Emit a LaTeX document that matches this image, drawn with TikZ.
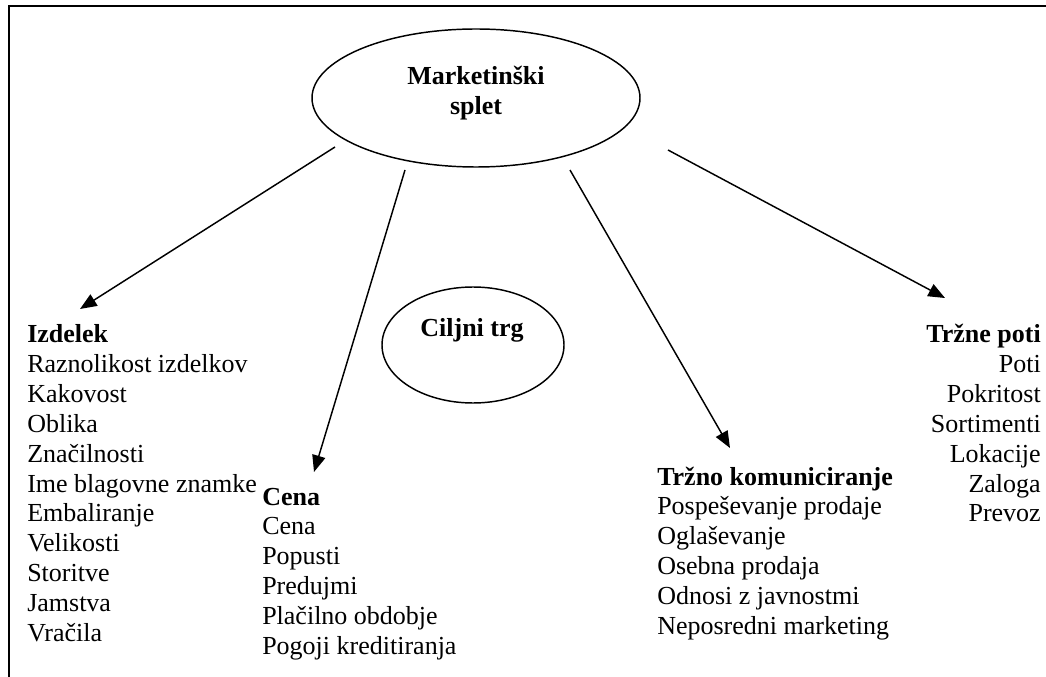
\documentclass[tikz,border=0pt]{standalone}
\usepackage{fontspec}
\setmainfont{Liberation Serif}
\usepackage{tikz}
\usetikzlibrary{arrows.meta,shapes.geometric}

\begin{document}
\begin{tikzpicture}[x=0.75pt,y=-0.75pt,
	txt/.style={inner sep=0pt,font=\fontsize{19.5pt}{22.4pt}\selectfont},
	head/.style={inner sep=0pt,font=\fontsize{19.5pt}{22.4pt}\selectfont\bfseries},
	oval/.style={draw,ellipse,line width=1.1pt,inner sep=0pt},
	arr/.style={line width=1.1pt,-{Triangle[length=12.5pt,width=10pt]}}]
		\useasboundingbox (0,0) rectangle (1046,677);
		% okvir
		\draw[line width=1.5pt] (9,677) -- (9,6) -- (1046,6);
		% elipsi
		\node[oval,minimum width=246pt,minimum height=103.5pt] (splet) at (476,98) {};
		\node[head,align=center] (spletime) at (476,93) {Marketinški\\splet};
		\node[oval,minimum width=136.5pt,minimum height=87pt] (trg) at (473,345) {};
		\node[head] (trgime) at (472,330) {Ciljni trg};
		% izdelek
		\node[head,anchor=base west] (izd) at (27,343) {Izdelek};
		\foreach \t [count=\i] in {Raznolikost izdelkov,Kakovost,Oblika,Značilnosti,
			Ime blagovne znamke,Embaliranje,Velikosti,Storitve,Jamstva,Vračila}
			\node[txt,anchor=base west] (izd\i) at (27,{343+29.8*\i}) {\t};
		% cena
		\node[head,anchor=base west] (cena) at (262,505) {Cena};
		\foreach \t [count=\i] in {Cena,Popusti,Predujmi,Plačilno obdobje,Pogoji kreditiranja}
			\node[txt,anchor=base west] (cena\i) at (262,{505+29.8*\i}) {\t};
		% komuniciranje
		\node[head,anchor=base west] (kom) at (657,485) {Tržno komuniciranje};
		\foreach \t [count=\i] in {Pospeševanje prodaje,Oglaševanje,Osebna prodaja,
			Odnosi z javnostmi,Neposredni marketing}
			\node[txt,anchor=base west] (kom\i) at (657,{485+29.8*\i}) {\t};
		% poti
		\node[head,anchor=base east] (poti) at (1041,343) {Tržne poti};
		\foreach \t [count=\i] in {Poti,Pokritost,Sortimenti,Lokacije,Zaloga,Prevoz}
			\node[txt,anchor=base east] (poti\i) at (1041,{343+29.8*\i}) {\t};
		% puscice
		\coordinate (z1) at (335,147);
		\coordinate (k1) at (80,309);
		\coordinate (z2) at (405,170);
		\coordinate (k2) at (314,472);
		\coordinate (z3) at (570,170);
		\coordinate (k3) at (730,448);
		\coordinate (z4) at (668,150);
		\coordinate (k4) at (945,298);
		\draw[arr] (z1) -- (k1);
		\draw[arr] (z2) -- (k2);
		\draw[arr] (z3) -- (k3);
		\draw[arr] (z4) -- (k4);
\end{tikzpicture}
\end{document}
